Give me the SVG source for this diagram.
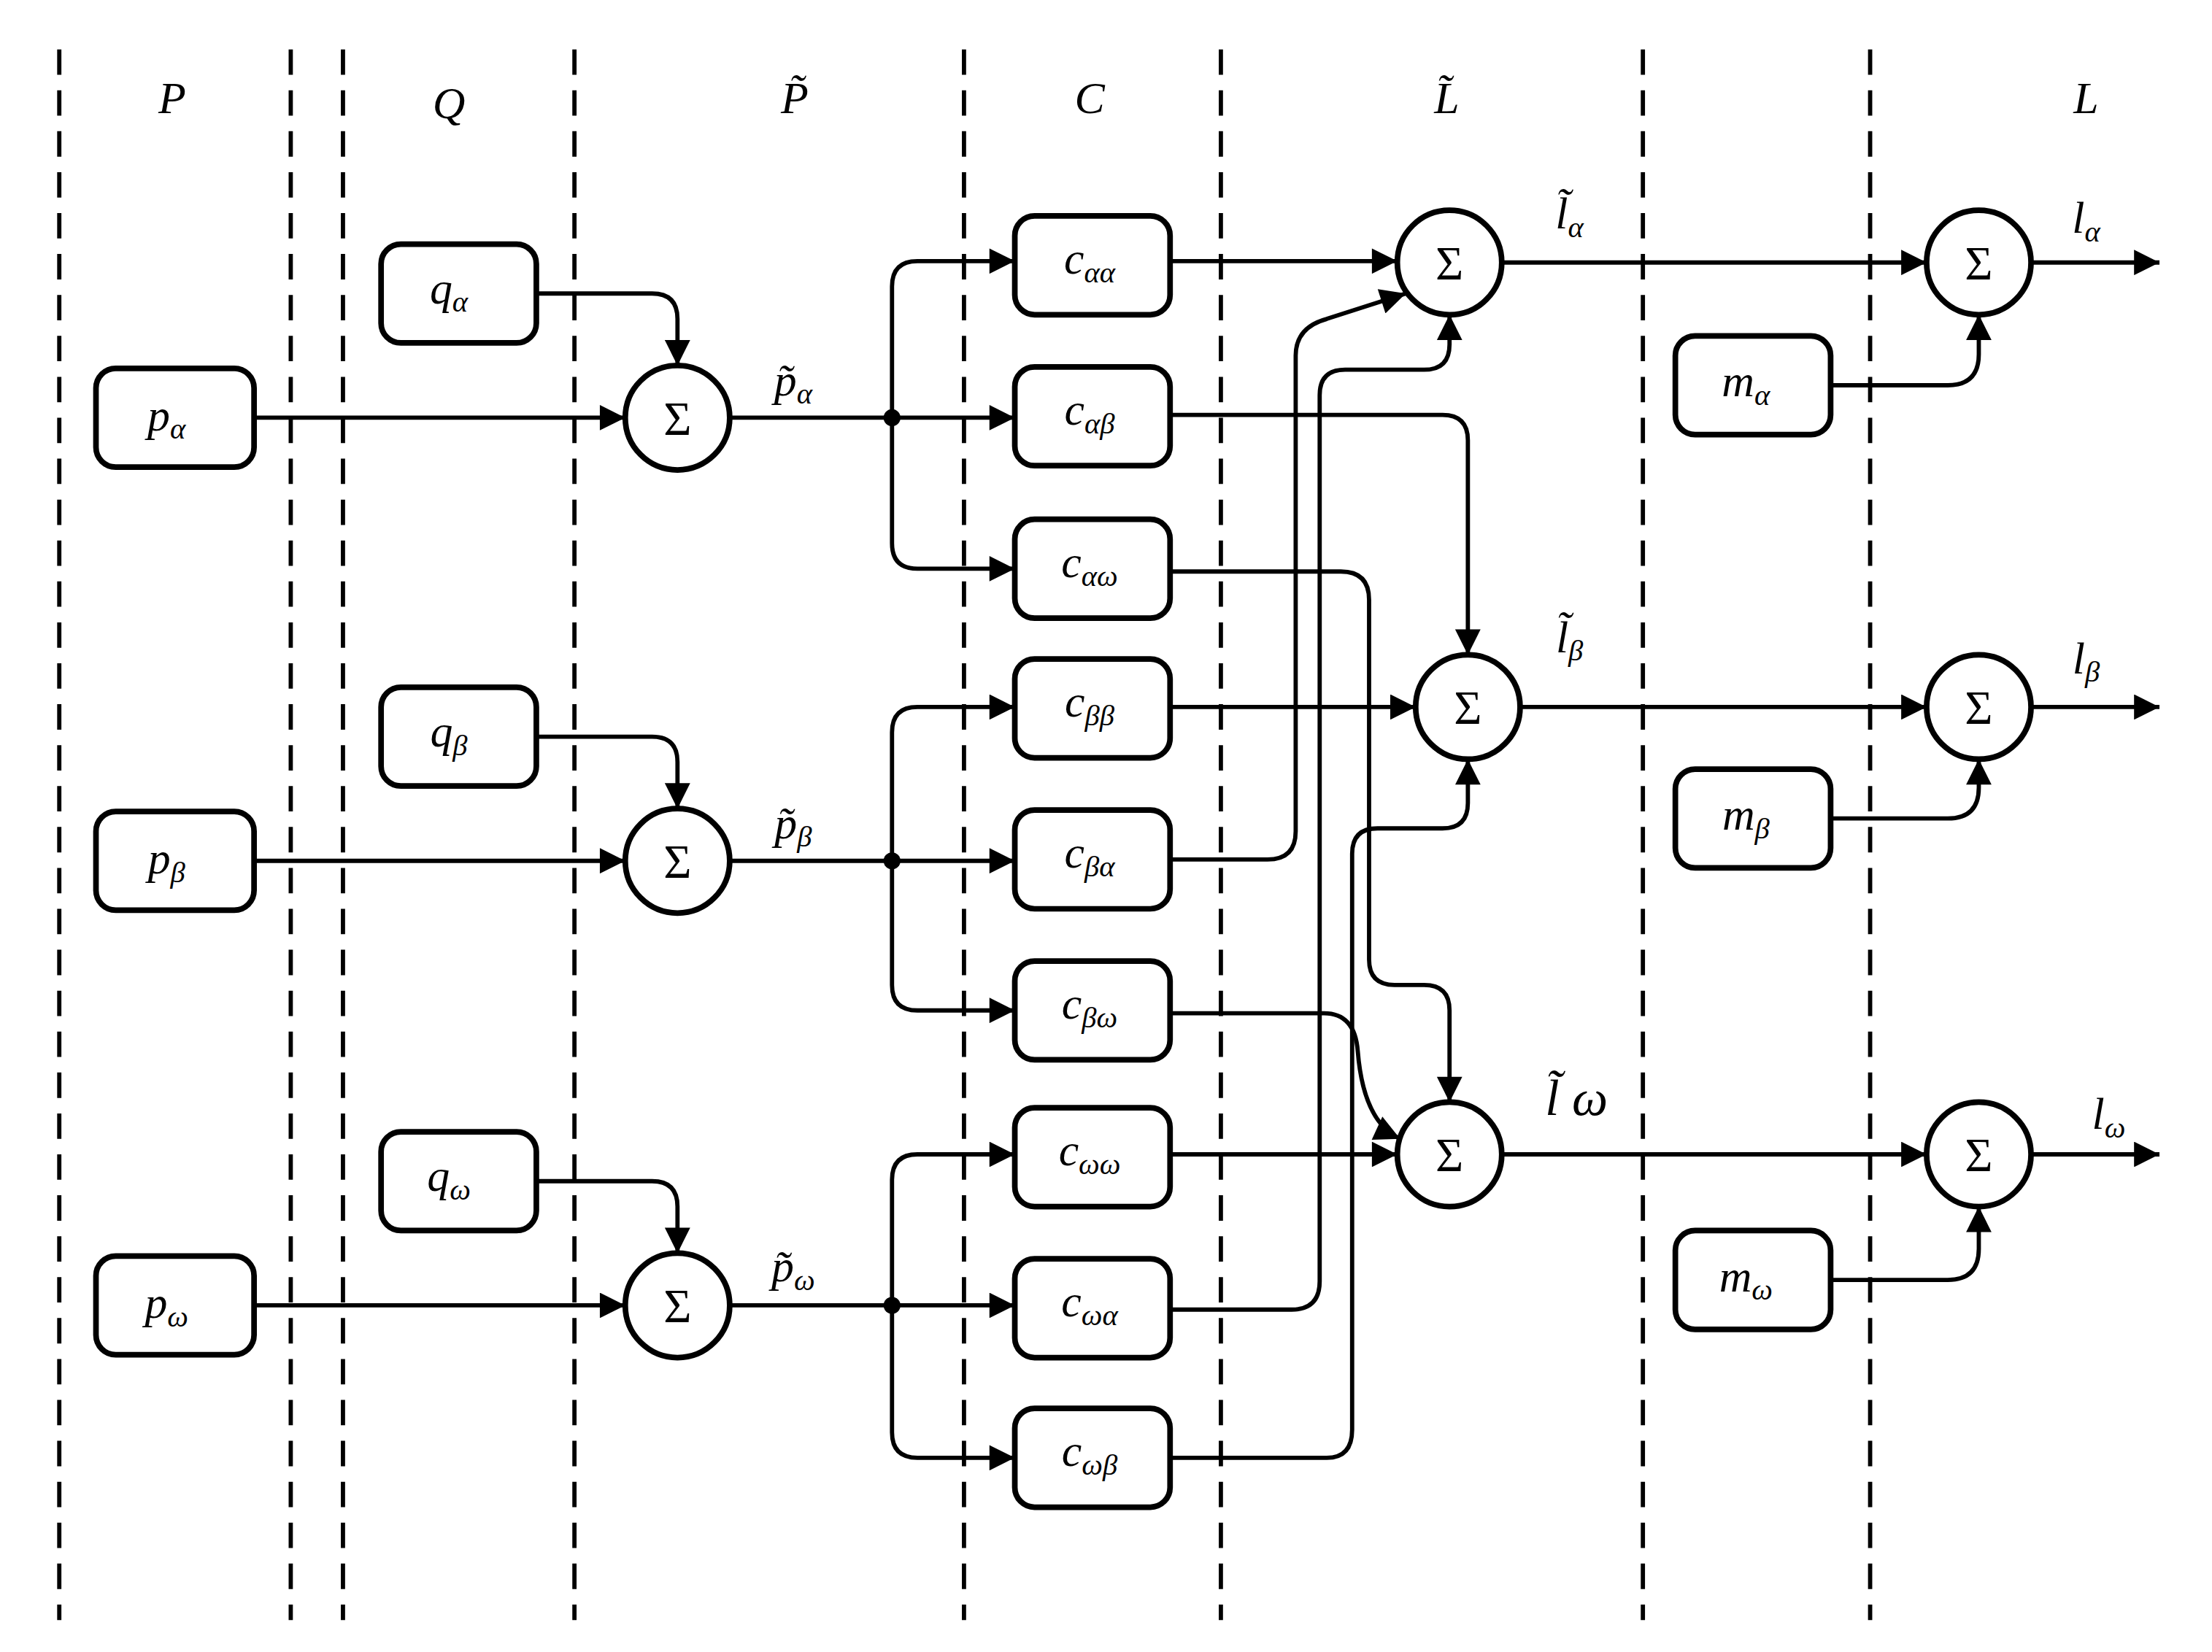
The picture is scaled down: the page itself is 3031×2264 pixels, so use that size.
<svg xmlns="http://www.w3.org/2000/svg" width="3031" height="2264" viewBox="0 0 3031 2264">
<style>
.dash{stroke:#000;stroke-width:3;stroke-dasharray:18 11;fill:none}
.box{fill:#fff;stroke:#000;stroke-width:4}
.w{stroke:#000;stroke-width:3;fill:none;marker-end:url(#ah)}
text{font-family:"Liberation Serif","Times New Roman",serif;font-style:italic;font-size:32px;text-anchor:middle}
.s{font-size:21px}
.sig{font-style:normal;font-size:34px}
</style>
<defs>
<marker id="ah" viewBox="0 0 10 10" refX="10" refY="5" markerWidth="22" markerHeight="18" markerUnits="userSpaceOnUse" orient="auto"><path d="M0 0L10 5L0 10z" fill="#000"/></marker>
</defs>
<rect width="3031" height="2264" fill="#fff"/>
<g transform="scale(1.934)">
<g id="lanes">
<path class="dash" d="M42 35V1148M206 35V1148M243 35V1148M407 35V1148M683 35V1148M865 35V1148M1164 35V1148M1325 35V1148"/>
<text x="122" y="80">P</text><text x="318" y="84">Q</text><text x="563" y="80">P̃</text><text x="772" y="80">C</text><text x="1025" y="80">L̃</text><text x="1478" y="80">L</text>
</g>
<g id="connectors">
<path class="w" d="M180 296H443"/><path class="w" d="M180 610H443"/><path class="w" d="M180 925H443"/>
<path class="w" d="M380 208H462Q480 208 480 226V259"/><path class="w" d="M380 522H462Q480 522 480 540V573"/><path class="w" d="M380 837H462Q480 837 480 855V888"/>
<path class="w" d="M517 296H719"/><path class="w" d="M632 296V203Q632 185 650 185H719"/><path class="w" d="M632 296V385Q632 403 650 403H719"/>
<path class="w" d="M517 610H719"/><path class="w" d="M632 610V519Q632 501 650 501H719"/><path class="w" d="M632 610V698Q632 716 650 716H719"/>
<path class="w" d="M517 925H719"/><path class="w" d="M632 925V836Q632 818 650 818H719"/><path class="w" d="M632 925V1015Q632 1033 650 1033H719"/>
<circle cx="632" cy="296" r="6"/><circle cx="632" cy="610" r="6"/><circle cx="632" cy="925" r="6"/>
<path class="w" d="M829 185H990"/>
<path class="w" d="M829 294H1022Q1040 294 1040 312V464"/>
<path class="w" d="M829 405H950Q970 405 970 425V680Q970 698 988 698H1009Q1027 698 1027 716V781"/>
<path class="w" d="M829 501H1003"/>
<path class="w" d="M829 609H898Q918 609 918 589V252Q918 232 940 226L996 208"/>
<path class="w" d="M829 928H915Q935 928 935 908V280Q935 262 953 262H1009Q1027 262 1027 244V223"/>
<path class="w" d="M829 718H938Q960 718 962 745Q966 795 992 807"/>
<path class="w" d="M829 1033H940Q958 1033 958 1013V605Q958 587 976 587H1022Q1040 587 1040 569V538"/>
<path class="w" d="M829 818H990"/>
<path class="w" d="M1064 186H1365"/><path class="w" d="M1077 501H1365"/><path class="w" d="M1064 818H1365"/>
<path class="w" d="M1439 186H1530"/><path class="w" d="M1439 501H1530"/><path class="w" d="M1439 818H1530"/>
<path class="w" d="M1297 273H1380Q1402 273 1402 251V223"/><path class="w" d="M1297 580H1380Q1402 580 1402 558V538"/><path class="w" d="M1297 907H1380Q1402 907 1402 885V855"/>
</g>
<g id="p-nodes">
<g id="pa"><rect class="box" x="68" y="261" width="112" height="70" rx="14"/><text x="118" y="305">p<tspan class="s" dy="6">α</tspan></text></g>
<g id="pb"><rect class="box" x="68" y="575" width="112" height="70" rx="14"/><text x="118" y="619">p<tspan class="s" dy="6">β</tspan></text></g>
<g id="pw"><rect class="box" x="68" y="890" width="112" height="70" rx="14"/><text x="118" y="934">p<tspan class="s" dy="6">ω</tspan></text></g>
</g>
<g id="q-nodes">
<g id="qa"><rect class="box" x="270" y="173" width="110" height="70" rx="14"/><text x="318" y="215">q<tspan class="s" dy="6">α</tspan></text></g>
<g id="qb"><rect class="box" x="270" y="487" width="110" height="70" rx="14"/><text x="318" y="529">q<tspan class="s" dy="6">β</tspan></text></g>
<g id="qw"><rect class="box" x="270" y="802" width="110" height="70" rx="14"/><text x="318" y="844">q<tspan class="s" dy="6">ω</tspan></text></g>
</g>
<g id="sum-p">
<g id="sp1"><circle class="box" cx="480" cy="296" r="37"/><text class="sig" x="480" y="308">Σ</text><text x="562" y="280">p̃<tspan class="s" dy="6">α</tspan></text></g>
<g id="sp2"><circle class="box" cx="480" cy="610" r="37"/><text class="sig" x="480" y="622">Σ</text><text x="562" y="594">p̃<tspan class="s" dy="6">β</tspan></text></g>
<g id="sp3"><circle class="box" cx="480" cy="925" r="37"/><text class="sig" x="480" y="937">Σ</text><text x="562" y="908">p̃<tspan class="s" dy="6">ω</tspan></text></g>
</g>
<g id="c-nodes">
<g id="caa"><rect class="box" x="719" y="153" width="110" height="70" rx="14"/><text x="772" y="194">c<tspan class="s" dy="6">αα</tspan></text></g>
<g id="cab"><rect class="box" x="719" y="260" width="110" height="70" rx="14"/><text x="772" y="301">c<tspan class="s" dy="6">αβ</tspan></text></g>
<g id="caw"><rect class="box" x="719" y="368" width="110" height="70" rx="14"/><text x="772" y="409">c<tspan class="s" dy="6">αω</tspan></text></g>
<g id="cbb"><rect class="box" x="719" y="467" width="110" height="70" rx="14"/><text x="772" y="508">c<tspan class="s" dy="6">ββ</tspan></text></g>
<g id="cba"><rect class="box" x="719" y="574" width="110" height="70" rx="14"/><text x="772" y="615">c<tspan class="s" dy="6">βα</tspan></text></g>
<g id="cbw"><rect class="box" x="719" y="681" width="110" height="70" rx="14"/><text x="772" y="722">c<tspan class="s" dy="6">βω</tspan></text></g>
<g id="cww"><rect class="box" x="719" y="785" width="110" height="70" rx="14"/><text x="772" y="826">c<tspan class="s" dy="6">ωω</tspan></text></g>
<g id="cwa"><rect class="box" x="719" y="892" width="110" height="70" rx="14"/><text x="772" y="933">c<tspan class="s" dy="6">ωα</tspan></text></g>
<g id="cwb"><rect class="box" x="719" y="998" width="110" height="70" rx="14"/><text x="772" y="1039">c<tspan class="s" dy="6">ωβ</tspan></text></g>
</g>
<g id="sum-l">
<g id="sl1"><circle class="box" cx="1027" cy="186" r="37"/><text class="sig" x="1027" y="198">Σ</text><text x="1112" y="162">l̃<tspan class="s" dy="6">α</tspan></text></g>
<g id="sl2"><circle class="box" cx="1040" cy="501" r="37"/><text class="sig" x="1040" y="513">Σ</text><text x="1112" y="462">l̃<tspan class="s" dy="6">β</tspan></text></g>
<g id="sl3"><circle class="box" cx="1027" cy="818" r="37"/><text class="sig" x="1027" y="830">Σ</text><text x="1117" y="790" style="font-size:36px">l̃ ω</text></g>
</g>
<g id="m-nodes">
<g id="ma"><rect class="box" x="1187" y="238" width="110" height="70" rx="14"/><text x="1237" y="281">m<tspan class="s" dy="6">α</tspan></text></g>
<g id="mb"><rect class="box" x="1187" y="545" width="110" height="70" rx="14"/><text x="1237" y="588">m<tspan class="s" dy="6">β</tspan></text></g>
<g id="mw"><rect class="box" x="1187" y="872" width="110" height="70" rx="14"/><text x="1237" y="915">m<tspan class="s" dy="6">ω</tspan></text></g>
</g>
<g id="sum-out">
<g id="so1"><circle class="box" cx="1402" cy="186" r="37"/><text class="sig" x="1402" y="198">Σ</text><text x="1478" y="165">l<tspan class="s" dy="6">α</tspan></text></g>
<g id="so2"><circle class="box" cx="1402" cy="501" r="37"/><text class="sig" x="1402" y="513">Σ</text><text x="1478" y="477">l<tspan class="s" dy="6">β</tspan></text></g>
<g id="so3"><circle class="box" cx="1402" cy="818" r="37"/><text class="sig" x="1402" y="830">Σ</text><text x="1494" y="800">l<tspan class="s" dy="6">ω</tspan></text></g>
</g>
</g>
</svg>
